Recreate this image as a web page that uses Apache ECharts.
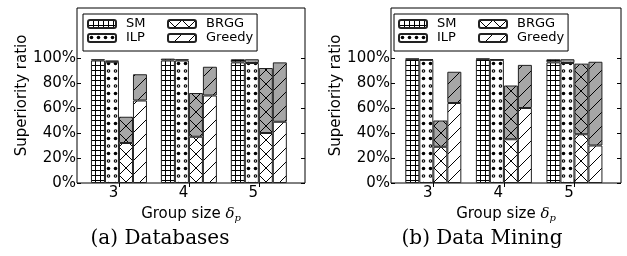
<!DOCTYPE html>
<html>
<head>
<meta charset="utf-8">
<script src="https://cdn.jsdelivr.net/npm/echarts@6/dist/echarts.min.js"></script>
<style>
  html, body { margin: 0; padding: 0; background: #fff; }
  #chart { width: 627px; height: 256px; }
</style>
</head>
<body>
<div id="chart"></div>
<script>
// group sizes on the x axis
const groupSizes = [3, 4, 5]
const yTicks = [0, 20, 40, 60, 80, 100]
const methods = ['SM', 'ILP', 'BRGG', 'Greedy']

// (a) Databases: lower (white) part and total height of each bar, in %
const dbSmLow = [98, 98, 96.5]
const dbSmTop = [99, 99.5, 99]
const dbIlpLow = [97, 98, 96]
const dbIlpTop = [98, 99, 99]
const dbBrggLow = [32, 37, 40]
const dbBrggTop = [53, 72, 92]
const dbGreedyLow = [66, 70, 49]
const dbGreedyTop = [87, 93, 96.5]

// (b) Data Mining
const dmSmLow = [99, 99, 96.5]
const dmSmTop = [99.5, 99.5, 99]
const dmIlpLow = [98.5, 98.5, 96]
const dmIlpTop = [99, 99, 99]
const dmBrggLow = [29, 35, 39]
const dmBrggTop = [50, 78, 95.5]
const dmGreedyLow = [64, 60, 30]
const dmGreedyTop = [89, 94.5, 97]

const FONT = 'DejaVu Sans'
const GRAY = '#a6a6a6'

// hatch tiles, drawn on small canvases and used as repeat patterns
function tile (bg, w, h, draw) {
  const c = document.createElement('canvas')
  c.width = w
  c.height = h
  const ctx = c.getContext('2d')
  ctx.fillStyle = bg
  ctx.fillRect(0, 0, w, h)
  ctx.strokeStyle = '#000'
  ctx.fillStyle = '#000'
  ctx.lineWidth = 1
  draw(ctx, w, h)
  return { image: c, repeat: 'repeat' }
}

function line (ctx, x1, y1, x2, y2) {
  ctx.beginPath()
  ctx.moveTo(x1, y1)
  ctx.lineTo(x2, y2)
  ctx.stroke()
}

const hatch = {
  SM (bg) {
    return tile(bg, 5, 5, (ctx, w, h) => {
      ctx.fillRect(0, 0, 1, h)
      ctx.fillRect(0, 0, w, 1)
    })
  },
  ILP (bg) {
    return tile(bg, 7, 15, (ctx) => {
      ctx.beginPath(); ctx.arc(3.5, 3.5, 1.8, 0, Math.PI * 2); ctx.fill()
      ctx.beginPath(); ctx.arc(3.5, 11, 1.8, 0, Math.PI * 2); ctx.fill()
      ctx.fillStyle = bg
      ctx.beginPath(); ctx.arc(3.5, 11, 0.7, 0, Math.PI * 2); ctx.fill()
    })
  },
  BRGG (bg) {
    return tile(bg, 14, 14, (ctx, w, h) => {
      line(ctx, -1, -1, w + 1, h + 1)
      line(ctx, -1, h + 1, w + 1, -1)
    })
  },
  Greedy (bg) {
    return tile(bg, 14, 14, (ctx, w, h) => {
      line(ctx, -1, h + 1, w + 1, -1)
    })
  }
}

// value first so that the stack is taken on the y dimension
function pairs (vals) {
  return vals.map((v, i) => [v, groupSizes[i]])
}

function buildSeries (gi, data) {
  const out = []
  methods.forEach((m) => {
    const low = data[m][0]
    const top = data[m][1]
    const common = {
      type: 'bar',
      xAxisIndex: gi * 2,
      yAxisIndex: gi * 2,
      stack: m + gi,
      encode: { x: 1, y: 0 },
      barWidth: 14,
      barGap: '0%',
      silent: true
    }
    out.push(Object.assign({}, common, {
      name: m,
      data: pairs(low),
      itemStyle: { color: hatch[m]('#fff'), borderColor: '#222', borderWidth: 1 }
    }))
    out.push(Object.assign({}, common, {
      name: m + ' (upper)',
      data: pairs(top.map((t, i) => t - low[i])),
      itemStyle: { color: hatch[m](GRAY), borderColor: '#222', borderWidth: 1 }
    }))
  })
  return out
}

const grids = [
  { left: 77, top: 8, width: 228, height: 175 },
  { left: 391, top: 8, width: 230, height: 175 }
]
const legendLeft = [83, 394]

const xAxes = []
const yAxes = []
const legends = []
grids.forEach((g, gi) => {
  const xBase = {
    type: 'value',
    gridIndex: gi,
    min: 2.4,
    max: 5.66,
    splitLine: { show: false },
    axisLine: { show: false }
  }
  xAxes.push(Object.assign({}, xBase, {
    position: 'bottom',
    axisTick: { show: true, inside: true, length: 4, customValues: groupSizes, lineStyle: { color: '#000' } },
    axisLabel: {
      customValues: groupSizes,
      color: '#000',
      fontFamily: FONT,
      fontSize: 15,
      margin: 3,
      padding: [0, 11, 0, 0]
    },
    name: 'Group size {d|δ}{p|p}',
    nameLocation: 'middle',
    nameGap: 22,
    nameTextStyle: {
      color: '#000',
      fontFamily: FONT,
      fontSize: 15,
      rich: {
        d: { fontFamily: 'DejaVu Serif', fontStyle: 'italic', fontSize: 15, color: '#000' },
        p: { fontFamily: 'DejaVu Serif', fontStyle: 'italic', fontSize: 10, color: '#000', padding: [8, 0, 0, 0] }
      }
    }
  }))
  xAxes.push(Object.assign({}, xBase, {
    position: 'top',
    axisTick: { show: true, inside: true, length: 4, customValues: groupSizes, lineStyle: { color: '#000' } },
    axisLabel: { show: false }
  }))
  const yBase = {
    type: 'value',
    gridIndex: gi,
    min: 0,
    max: 140,
    splitLine: { show: false },
    axisLine: { show: false },
    axisTick: { show: true, inside: true, length: 4, customValues: yTicks, lineStyle: { color: '#000' } }
  }
  yAxes.push(Object.assign({}, yBase, {
    position: 'left',
    axisLabel: {
      customValues: yTicks,
      formatter: '{value}%',
      color: '#000',
      fontFamily: FONT,
      fontSize: 15,
      margin: 1
    },
    name: 'Superiority ratio',
    nameLocation: 'middle',
    nameGap: 46,
    nameTextStyle: { color: '#000', fontFamily: FONT, fontSize: 15 }
  }))
  yAxes.push(Object.assign({}, yBase, {
    position: 'right',
    axisLabel: { show: false }
  }))
  legends.push({
    left: legendLeft[gi],
    top: 14,
    orient: 'horizontal',
    width: 185,
    itemGap: 0,
    itemWidth: 28,
    itemHeight: 8,
    padding: [3, 4, 6, 4],
    backgroundColor: '#fff',
    borderColor: '#000',
    borderWidth: 1,
    borderRadius: 0,
    data: ['SM', 'BRGG', 'ILP', 'Greedy'],
    selectedMode: false,
    formatter (name) {
      return (name === 'SM' || name === 'ILP') ? '{a|' + name + '}' : '{b|' + name + '}'
    },
    textStyle: {
      color: '#000',
      fontFamily: FONT,
      fontSize: 13,
      lineHeight: 14,
      rich: {
        a: { width: 41, padding: [0, 0, 0, 5], fontSize: 13, lineHeight: 14, fontFamily: FONT, color: '#000' },
        b: { width: 47, padding: [0, 0, 0, 5], fontSize: 13, lineHeight: 14, fontFamily: FONT, color: '#000' }
      }
    }
  })
})

const series = buildSeries(0, {
  SM: [dbSmLow, dbSmTop],
  ILP: [dbIlpLow, dbIlpTop],
  BRGG: [dbBrggLow, dbBrggTop],
  Greedy: [dbGreedyLow, dbGreedyTop]
}).concat(buildSeries(1, {
  SM: [dmSmLow, dmSmTop],
  ILP: [dmIlpLow, dmIlpTop],
  BRGG: [dmBrggLow, dmBrggTop],
  Greedy: [dmGreedyLow, dmGreedyTop]
}))

const chart = echarts.init(document.getElementById('chart'), null, { renderer: 'canvas' })
chart.setOption({
  animation: false,
  backgroundColor: '#fff',
  grid: grids.map(g => Object.assign({ show: true, borderColor: '#000', borderWidth: 1, backgroundColor: 'transparent' }, g)),
  xAxis: xAxes,
  yAxis: yAxes,
  legend: legends,
  series: series,
  graphic: [
    {
      type: 'text',
      x: 160,
      y: 239,
      style: { text: '(a) Databases', fontFamily: 'DejaVu Serif', fontSize: 20, fill: '#000', align: 'center', verticalAlign: 'middle' }
    },
    {
      type: 'text',
      x: 482,
      y: 239,
      style: { text: '(b) Data Mining', fontFamily: 'DejaVu Serif', fontSize: 20, fill: '#000', align: 'center', verticalAlign: 'middle' }
    }
  ]
})
</script>
</body>
</html>
